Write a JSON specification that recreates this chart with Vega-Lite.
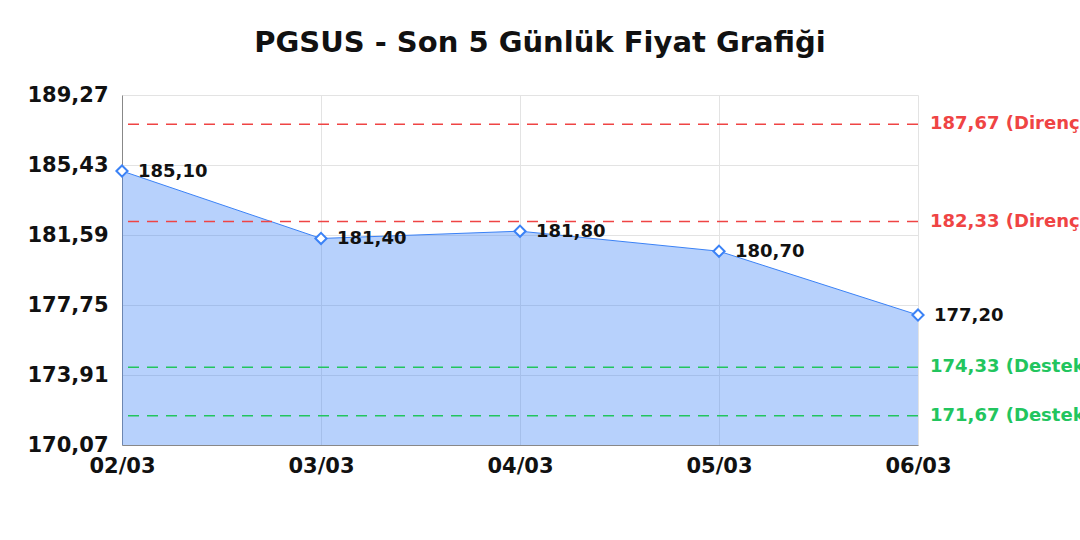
{
  "$schema": "https://vega.github.io/schema/vega-lite/v6.json",
  "width": 796,
  "height": 350,
  "autosize": {"type": "none"},
  "padding": {"left": 122, "top": 95, "right": 162, "bottom": 95},
  "background": "white",
  "title": {
    "text": "PGSUS - Son 5 Günlük Fiyat Grafiği",
    "font": "DejaVu Sans",
    "fontSize": 29,
    "fontWeight": "bold",
    "color": "#111111",
    "anchor": "middle",
    "dx": 20,
    "offset": 26
  },
  "datasets": {
    "fiyatlar": [
      {"tarih": "02/03", "fiyat": 185.10},
      {"tarih": "03/03", "fiyat": 181.40},
      {"tarih": "04/03", "fiyat": 181.80},
      {"tarih": "05/03", "fiyat": 180.70},
      {"tarih": "06/03", "fiyat": 177.20}
    ],
    "seviyeler": [
      {"seviye": 187.67, "etiket": "187,67 (Direnç)", "tip": "Direnç"},
      {"seviye": 182.33, "etiket": "182,33 (Direnç)", "tip": "Direnç"},
      {"seviye": 174.33, "etiket": "174,33 (Destek)", "tip": "Destek"},
      {"seviye": 171.67, "etiket": "171,67 (Destek)", "tip": "Destek"}
    ]
  },
  "layer": [
    {
      "data": {"name": "fiyatlar"},
      "mark": {"type": "area", "color": "#3b82f6", "opacity": 0.37},
      "encoding": {
        "x": {
          "field": "tarih",
          "type": "ordinal",
          "scale": {"type": "point", "padding": 0},
          "axis": {
            "title": null,
            "labelAngle": 0,
            "labelFont": "DejaVu Sans",
            "labelFontSize": 21,
            "labelFontWeight": "bold",
            "labelColor": "#111111",
            "labelPadding": 10,
            "ticks": false,
            "grid": true,
            "gridColor": "#e3e3e3",
            "domainColor": "#888888"
          }
        },
        "y": {
          "field": "fiyat",
          "type": "quantitative",
          "scale": {"domain": [170.07, 189.27], "zero": false, "nice": false},
          "axis": {
            "title": null,
            "values": [170.07, 173.91, 177.75, 181.59, 185.43, 189.27],
            "format": ".2f",
            "labelFont": "DejaVu Sans",
            "labelFontSize": 21,
            "labelFontWeight": "bold",
            "labelColor": "#111111",
            "labelPadding": 14,
            "ticks": false,
            "grid": true,
            "gridColor": "#e3e3e3",
            "domainColor": "#888888"
          }
        },
        "y2": {"datum": 170.07}
      }
    },
    {
      "data": {"name": "fiyatlar"},
      "mark": {"type": "line", "color": "#3b82f6", "strokeWidth": 1},
      "encoding": {
        "x": {"field": "tarih", "type": "ordinal"},
        "y": {"field": "fiyat", "type": "quantitative"}
      }
    },
    {
      "data": {"name": "seviyeler"},
      "mark": {"type": "rule", "strokeWidth": 1.5, "strokeDash": [11, 8], "opacity": 1},
      "encoding": {
        "y": {"field": "seviye", "type": "quantitative"},
        "stroke": {
          "field": "tip",
          "type": "nominal",
          "scale": {"domain": ["Direnç", "Destek"], "range": ["#ef4444", "#22c55e"]},
          "legend": null
        }
      }
    },
    {
      "data": {"name": "seviyeler"},
      "mark": {
        "type": "text",
        "align": "left",
        "baseline": "middle",
        "dx": 12,
        "font": "DejaVu Sans",
        "fontSize": 18,
        "fontWeight": "bold"
      },
      "encoding": {
        "x": {"datum": "06/03", "type": "ordinal"},
        "y": {"field": "seviye", "type": "quantitative"},
        "text": {"field": "etiket"},
        "color": {
          "field": "tip",
          "type": "nominal",
          "scale": {"domain": ["Direnç", "Destek"], "range": ["#ef4444", "#22c55e"]},
          "legend": null
        }
      }
    },
    {
      "data": {"name": "fiyatlar"},
      "mark": {
        "type": "point",
        "shape": "diamond",
        "size": 125,
        "filled": true,
        "fill": "white",
        "stroke": "#3b82f6",
        "strokeWidth": 2,
        "opacity": 1
      },
      "encoding": {
        "x": {"field": "tarih", "type": "ordinal"},
        "y": {"field": "fiyat", "type": "quantitative"}
      }
    },
    {
      "data": {"name": "fiyatlar"},
      "mark": {
        "type": "text",
        "align": "left",
        "baseline": "middle",
        "dx": 16,
        "dy": 1,
        "font": "DejaVu Sans",
        "fontSize": 18,
        "fontWeight": "bold",
        "color": "#111111"
      },
      "encoding": {
        "x": {"field": "tarih", "type": "ordinal"},
        "y": {"field": "fiyat", "type": "quantitative"},
        "text": {"field": "fiyat", "type": "quantitative", "format": ".2f"}
      }
    }
  ],
  "config": {
    "locale": {
      "number": {
        "decimal": ",",
        "thousands": ".",
        "grouping": [3],
        "currency": ["", " TL"]
      }
    },
    "view": {"stroke": null}
  }
}
